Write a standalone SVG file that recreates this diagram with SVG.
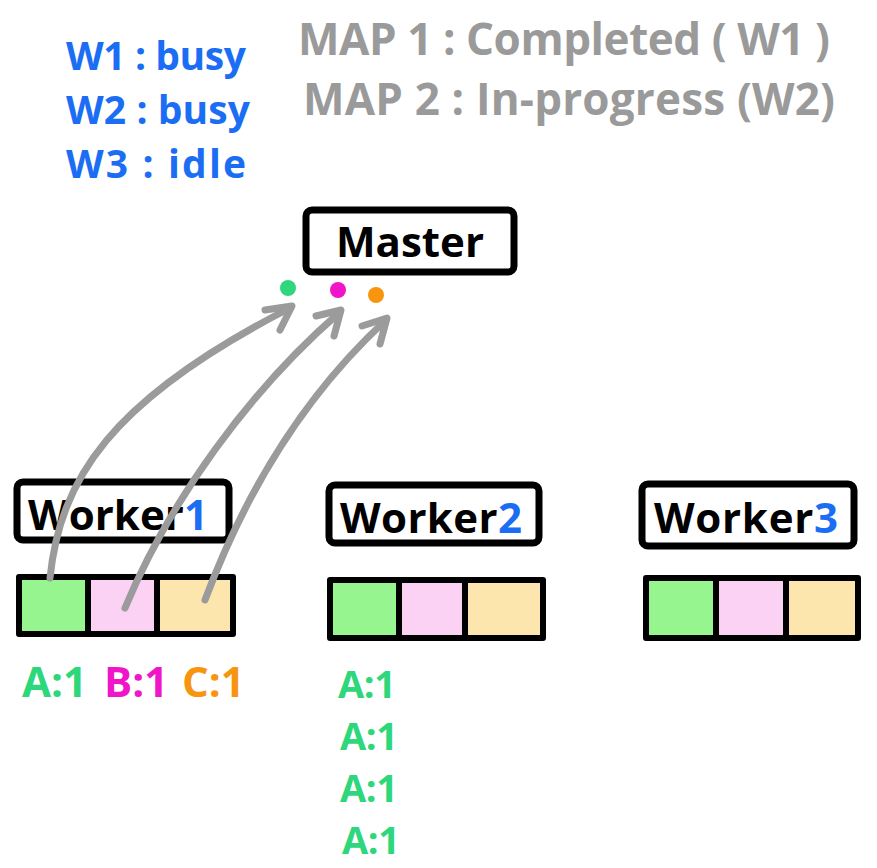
<svg xmlns="http://www.w3.org/2000/svg" width="877" height="868" viewBox="0 0 877 868">
<style>
.t{font-family:"Open Sans","Liberation Sans",sans-serif;font-weight:700}
.blue{fill:#1b6ef3}
.gray{fill:#9a9a9a}
.box{fill:#fff;stroke:#000;stroke-width:7;stroke-linejoin:round}
.cell{stroke:#000;stroke-width:6;stroke-linejoin:round}
.g{fill:#97f58f}.p{fill:#fbd1f4}.y{fill:#fde5ae}
.arr{fill:none;stroke:#9b9b9b;stroke-width:7;stroke-linecap:round;stroke-linejoin:round}
.lbl{font-size:42px;fill:#2ed67c}
.lbl2{font-size:38px;fill:#2ed67c}
</style>
<rect width="877" height="868" fill="#fff"/>
<g id="status">
<text class="t blue" x="66" y="70" font-size="39" textLength="180">W1 : busy</text>
<text class="t blue" x="66" y="124" font-size="39" textLength="184">W2 : busy</text>
<text class="t blue" x="66" y="178" font-size="39" textLength="180">W3 : idle</text>
<text class="t gray" x="298" y="55" font-size="44" textLength="532">MAP 1 : Completed ( W1 )</text>
<text class="t gray" x="303" y="115" font-size="44" textLength="532">MAP 2 : In-progress (W2)</text>
</g>
<g id="master">
<rect class="box" x="306" y="210" width="208" height="62" rx="6"/>
<text class="t" x="410" y="257" font-size="42" text-anchor="middle">Master</text>
<circle cx="288" cy="288" r="8" fill="#2ed67c"/>
<circle cx="338" cy="290" r="8" fill="#f015c8"/>
<circle cx="376" cy="295" r="8" fill="#f7950f"/>
</g>
<g id="worker1">
<rect class="box" x="17" y="482" width="212" height="58" rx="6"/>
<text class="t" x="28" y="530" font-size="42" textLength="180">Worker<tspan class="blue">1</tspan></text>
<rect class="cell g" x="19" y="577" width="69" height="57"/>
<rect class="cell p" x="88" y="577" width="69" height="57"/>
<rect class="cell y" x="157" y="577" width="76" height="57"/>
<text class="t lbl" x="22" y="697">A:1</text>
<text class="t lbl" x="104" y="697" style="fill:#f015c8">B:1</text>
<text class="t lbl" x="182" y="697" style="fill:#f7950f">C:1</text>
</g>
<g id="worker2">
<rect class="box" x="329" y="485" width="210" height="58" rx="6"/>
<text class="t" x="340" y="533" font-size="42" textLength="182">Worker<tspan class="blue">2</tspan></text>
<rect class="cell g" x="330" y="580" width="69" height="58"/>
<rect class="cell p" x="399" y="580" width="66" height="58"/>
<rect class="cell y" x="465" y="580" width="78" height="58"/>
<text class="t lbl2" x="338" y="698" textLength="58">A:1</text>
<text class="t lbl2" x="340" y="750" textLength="58">A:1</text>
<text class="t lbl2" x="340" y="802" textLength="58">A:1</text>
<text class="t lbl2" x="342" y="854" textLength="58">A:1</text>
</g>
<g id="worker3">
<rect class="box" x="642" y="484" width="212" height="62" rx="6"/>
<text class="t" x="654" y="533" font-size="42" textLength="184">Worker<tspan class="blue">3</tspan></text>
<rect class="cell g" x="646" y="578" width="70" height="60"/>
<rect class="cell p" x="716" y="578" width="70" height="60"/>
<rect class="cell y" x="786" y="578" width="72" height="60"/>
</g>
<g id="connectors">
<path class="arr" d="M50 578 C60 480 110 400 290 308"/>
<path class="arr" d="M265 310 L292 306 L280 330"/>
<path class="arr" d="M125 608 C170 500 250 390 340 312"/>
<path class="arr" d="M316 316 L341 310 L334 336"/>
<path class="arr" d="M205 600 C250 480 310 390 386 320"/>
<path class="arr" d="M362 326 L387 318 L380 344"/>
</g>
</svg>
